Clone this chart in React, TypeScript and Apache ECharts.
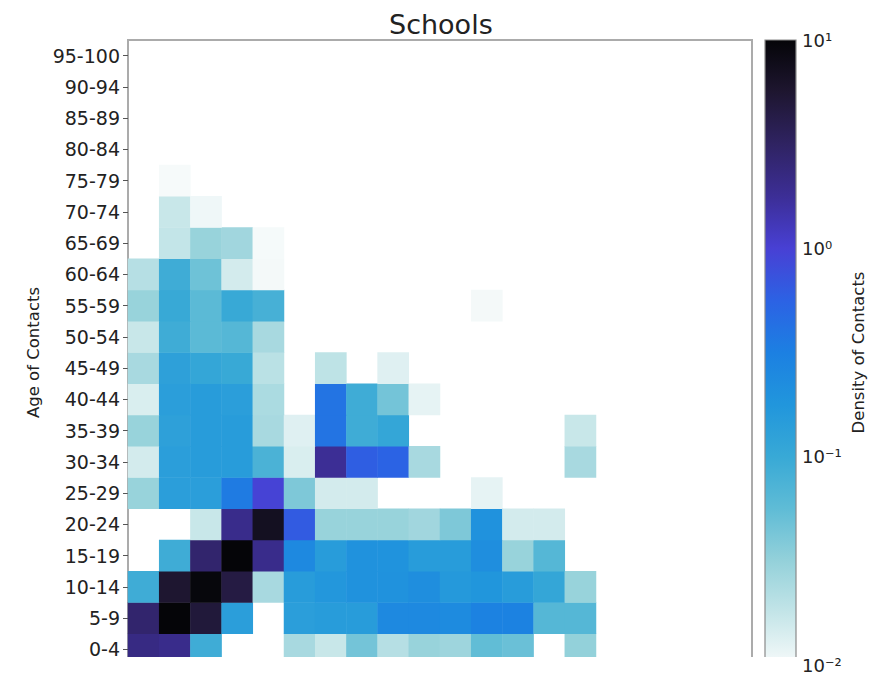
import React, { useEffect, useRef } from "react";
import * as echarts from "echarts";

// Age groups (both axes)
const ageGroups = [
  "0-4", "5-9", "10-14", "15-19", "20-24", "25-29", "30-34", "35-39", "40-44", "45-49",
  "50-54", "55-59", "60-64", "65-69", "70-74", "75-79", "80-84", "85-89", "90-94", "95-100",
];

// Density of contacts: one array per age of contacts (row), indexed by participant age group (column)
const N = null;
const row0_4 = [2.2, 2.0, 0.09, N, N, 0.025, 0.017, 0.045, 0.021, 0.03, 0.028, 0.055, 0.05, N, 0.032, N, N, N, N, N];
const row5_9 = [2.8, 10, 5.0, 0.14, N, 0.14, 0.15, 0.15, 0.25, 0.25, 0.24, 0.3, 0.3, 0.065, 0.065, N, N, N, N, N];
const row10_14 = [0.09, 5.6, 9.5, 4.5, 0.025, 0.15, 0.17, 0.2, 0.2, 0.22, 0.16, 0.18, 0.15, 0.11, 0.03, N, N, N, N, N];
const row15_19 = [N, 0.09, 2.8, 10, 2.0, 0.25, 0.15, 0.2, 0.19, 0.15, 0.15, 0.22, 0.03, 0.065, N, N, N, N, N, N];
const row20_24 = [N, N, 0.017, 2.0, 7.0, 0.63, 0.03, 0.03, 0.03, 0.027, 0.04, 0.2, 0.015, 0.015, N, N, N, N, N, N];
const row25_29 = [0.03, 0.14, 0.14, 0.35, 0.95, 0.04, 0.015, 0.015, N, N, N, 0.012, N, N, N, N, N, N, N, N];
const row30_34 = [0.015, 0.14, 0.15, 0.15, 0.075, 0.014, 1.8, 0.6, 0.55, 0.025, N, N, N, N, 0.025, N, N, N, N, N];
const row35_39 = [0.03, 0.13, 0.15, 0.15, 0.025, 0.013, 0.4, 0.09, 0.11, N, N, N, N, N, 0.017, N, N, N, N, N];
const row40_44 = [0.014, 0.14, 0.15, 0.14, 0.024, N, 0.4, 0.09, 0.045, 0.012, N, N, N, N, N, N, N, N, N, N];
const row45_49 = [0.025, 0.13, 0.11, 0.1, 0.02, N, 0.019, N, 0.013, N, N, N, N, N, N, N, N, N, N, N];
const row50_54 = [0.017, 0.09, 0.06, 0.065, 0.025, N, N, N, N, N, N, N, N, N, N, N, N, N, N, N];
const row55_59 = [0.03, 0.1, 0.06, 0.1, 0.08, N, N, N, N, N, N, 0.0102, N, N, N, N, N, N, N, N];
const row60_64 = [0.021, 0.09, 0.048, 0.015, 0.0102, N, N, N, N, N, N, N, N, N, N, N, N, N, N, N];
const row65_69 = [N, 0.018, 0.03, 0.027, 0.0101, N, N, N, N, N, N, N, N, N, N, N, N, N, N, N];
const row70_74 = [N, 0.017, 0.0108, N, N, N, N, N, N, N, N, N, N, N, N, N, N, N, N, N];
const row75_79 = [N, 0.01, N, N, N, N, N, N, N, N, N, N, N, N, N, N, N, N, N, N];
const row80_84 = [N, N, N, N, N, N, N, N, N, N, N, N, N, N, N, N, N, N, N, N];
const row85_89 = [N, N, N, N, N, N, N, N, N, N, N, N, N, N, N, N, N, N, N, N];
const row90_94 = [N, N, N, N, N, N, N, N, N, N, N, N, N, N, N, N, N, N, N, N];
const row95_100 = [N, N, N, N, N, N, N, N, N, N, N, N, N, N, N, N, N, N, N, N];

const densityRows = [
  row0_4, row5_9, row10_14, row15_19, row20_24, row25_29, row30_34, row35_39, row40_44, row45_49,
  row50_54, row55_59, row60_64, row65_69, row70_74, row75_79, row80_84, row85_89, row90_94, row95_100,
];

// Colour scale (log10 density from -2 to 1), low to high
const colorMap = [
  "#f6fafa", "#c4e5e8", "#94d1da", "#5fbcd6", "#38a9d6", "#2196dc", "#1c80e2",
  "#2c62e4", "#4840d4", "#3c2e96", "#2f2362", "#1e1630", "#050508",
];
const logMin = -2;
const logMax = 1;
const colorbarTicks = [0.01, 0.1, 1, 10];

const FONT = "DejaVu Sans";
const GRID = { left: 128, top: 40, width: 624, height: 625 };
const CBAR = { left: 765, top: 40, width: 31, height: 625 };

const sup: Record<string, string> = { "-": "\u207B", "0": "\u2070", "1": "\u00B9", "2": "\u00B2", "3": "\u00B3" };
const toPow = (v: number) => {
  const e = Math.round(Math.log10(v));
  return "10" + String(e).split("").map((ch) => sup[ch] || ch).join("");
};

export default function App() {
  const ref = useRef<HTMLDivElement>(null);

  useEffect(() => {
    if (!ref.current) return;
    const chart = echarts.init(ref.current, null, { renderer: "svg" });

    const data: [number, number, number][] = [];
    densityRows.forEach((row, r) => {
      row.forEach((v, c) => {
        if (v !== null && v !== undefined) data.push([c, r, Math.log10(v as number)]);
      });
    });

    const stops = colorMap.map((color, i) => ({ offset: i / (colorMap.length - 1), color }));

    chart.setOption({
      animation: false,
      backgroundColor: "#ffffff",
      title: {
        text: "Schools",
        left: 384,
        top: 6,
        textStyle: { fontFamily: FONT, fontSize: 27, fontWeight: "normal", color: "#222" },
      },
      grid: [
        { ...GRID, show: true, borderColor: "#ababab", borderWidth: 2, backgroundColor: "#fff" },
        { ...CBAR, show: false },
      ],
      xAxis: [
        {
          type: "category",
          gridIndex: 0,
          data: ageGroups,
          axisLabel: { show: false },
          axisTick: { show: false },
          axisLine: { show: false },
          splitLine: { show: false },
        },
        {
          type: "value",
          gridIndex: 1,
          min: 0,
          max: 1,
          show: false,
        },
      ],
      yAxis: [
        {
          type: "category",
          gridIndex: 0,
          data: ageGroups,
          axisLine: { show: false },
          axisTick: { show: true, length: 5, alignWithLabel: true, lineStyle: { color: "#555" } },
          axisLabel: { fontFamily: FONT, fontSize: 19, color: "#222", margin: 8 },
          splitLine: { show: false },
          name: "Age of Contacts",
          nameLocation: "middle",
          nameRotate: 90,
          nameGap: 83,
          nameTextStyle: { fontFamily: FONT, fontSize: 16.5, color: "#222" },
        },
        {
          type: "log",
          logBase: 10,
          gridIndex: 1,
          min: colorbarTicks[0],
          max: colorbarTicks[colorbarTicks.length - 1],
          position: "right",
          axisLine: { show: false },
          axisTick: { show: true, length: 5, lineStyle: { color: "#444" } },
          axisLabel: { fontFamily: FONT, fontSize: 18, color: "#222", margin: 6, formatter: (v: number) => toPow(v) },
          splitLine: { show: false },
          name: "Density of Contacts",
          nameLocation: "middle",
          nameRotate: 90,
          nameGap: 54,
          nameTextStyle: { fontFamily: FONT, fontSize: 16.5, color: "#222" },
        },
      ],
      visualMap: {
        show: false,
        type: "continuous",
        min: logMin,
        max: logMax,
        dimension: 2,
        seriesIndex: 0,
        inRange: { color: colorMap },
      },
      series: [
        {
          type: "heatmap",
          xAxisIndex: 0,
          yAxisIndex: 0,
          data,
          itemStyle: { borderWidth: 0 },
          emphasis: { disabled: true },
        },
        {
          type: "scatter",
          xAxisIndex: 1,
          yAxisIndex: 1,
          data: [],
          silent: true,
        },
      ],
      graphic: [
        {
          type: "rect",
          shape: { x: CBAR.left, y: CBAR.top, width: CBAR.width, height: CBAR.height },
          style: {
            fill: new echarts.graphic.LinearGradient(0, 1, 0, 0, stops),
            stroke: "#8a8a8a",
            lineWidth: 1.2,
          },
          z: 10,
        },
        {
          type: "rect",
          shape: { x: 124, y: 657, width: 676, height: 17 },
          style: { fill: "#ffffff" },
          silent: true,
          z: 100,
        },
      ],
    });

    return () => chart.dispose();
  }, []);

  return (
    <div
      ref={ref}
      style={{ position: "fixed", left: 0, top: 0, width: 884, height: 674, background: "#fff" }}
    />
  );
}
